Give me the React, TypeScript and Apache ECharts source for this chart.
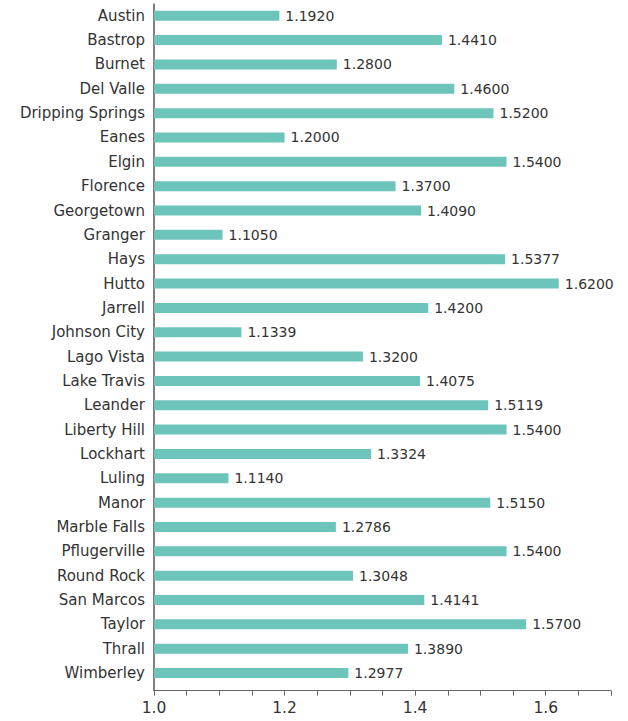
import React, { useEffect, useRef } from "react";
import * as echarts from "echarts";

const categories = [
  "Austin", "Bastrop", "Burnet", "Del Valle", "Dripping Springs", "Eanes", "Elgin",
  "Florence", "Georgetown", "Granger", "Hays", "Hutto", "Jarrell", "Johnson City",
  "Lago Vista", "Lake Travis", "Leander", "Liberty Hill", "Lockhart", "Luling",
  "Manor", "Marble Falls", "Pflugerville", "Round Rock", "San Marcos", "Taylor",
  "Thrall", "Wimberley",
];
const values = [
  1.192, 1.441, 1.28, 1.46, 1.52, 1.2, 1.54,
  1.37, 1.409, 1.105, 1.5377, 1.62, 1.42, 1.1339,
  1.32, 1.4075, 1.5119, 1.54, 1.3324, 1.114,
  1.515, 1.2786, 1.54, 1.3048, 1.4141, 1.57,
  1.389, 1.2977,
];
const xTickLabels = ["1.0", "1.2", "1.4", "1.6"];

const FONT = "'DejaVu Sans', sans-serif";

export default function App() {
  const ref = useRef<HTMLDivElement>(null);
  useEffect(() => {
    if (!ref.current) return;
    const chart = echarts.init(ref.current, undefined, { renderer: "svg" });
    chart.setOption({
      animation: false,
      grid: { left: 154, right: 17, top: 3.6, bottom: 35.8, containLabel: false },
      xAxis: {
        type: "value",
        min: 1,
        max: 1.7,
        interval: 0.05,
        offset: 5.5,
        splitLine: { show: false },
        axisLine: { show: true, lineStyle: { color: "#666", width: 1 } },
        axisTick: { show: true, length: 5, lineStyle: { color: "#666" } },
        axisLabel: {
          color: "#333",
          fontFamily: FONT,
          fontSize: 15.5,
          margin: 9,
          formatter: (v: number) => {
            const s = v.toFixed(1);
            const ok = Math.abs(v * 5 - Math.round(v * 5)) < 1e-6;
            return ok && xTickLabels.includes(s) ? s : "";
          },
        },
      },
      yAxis: {
        type: "category",
        data: categories,
        inverse: true,
        axisLine: { show: false },
        axisTick: { show: false },
        axisLabel: { color: "#333", fontFamily: FONT, fontSize: 15, margin: 9 },
      },
      graphic: [
        {
          type: "line",
          shape: { x1: 154, y1: 3.6, x2: 154, y2: 691 },
          style: { stroke: "#555", lineWidth: 1.5 },
          silent: true,
        },
      ],
      series: [
        {
          type: "bar",
          data: values,
          barWidth: 10,
          itemStyle: { color: "#6cc4bb" },
          label: {
            show: true,
            position: "right",
            distance: 6,
            color: "#333",
            fontFamily: FONT,
            fontSize: 14,
            formatter: (p: any) => Number(p.value).toFixed(4),
          },
        },
      ],
    });
    return () => chart.dispose();
  }, []);
  return <div ref={ref} style={{ width: 628, height: 721, position: "absolute", left: 0, top: 0 }} />;
}
